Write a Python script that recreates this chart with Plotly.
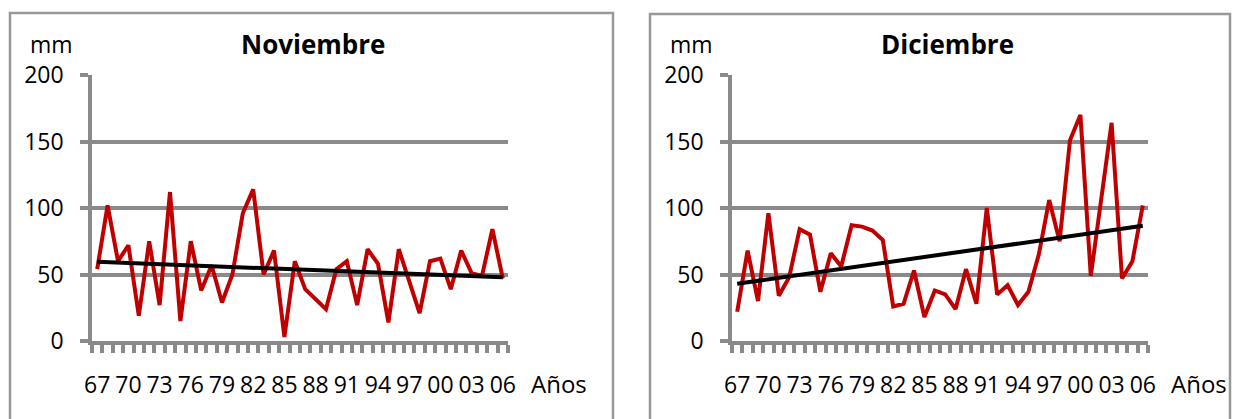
import numpy as np
import plotly.graph_objects as go

W, H = 1241, 419

years = [f"{y % 100:02d}" for y in range(1967, 2007)]
label_years = ["67", "70", "73", "76", "79", "82", "85", "88", "91", "94", "97", "00", "03", "06"]

noviembre = [54, 102, 60, 72, 19, 75, 27, 112, 15, 75, 38, 57, 29, 50, 96, 114, 50, 68, 3, 60,
             39, 31, 24, 54, 60, 27, 69, 58, 14, 69, 46, 21, 60, 62, 39, 68, 51, 49, 84, 47]
diciembre = [22, 68, 30, 96, 34, 48, 84, 80, 37, 66, 56, 87, 86, 83, 76, 26, 28, 53, 18, 38,
             35, 24, 54, 28, 100, 35, 42, 27, 37, 65, 106, 75, 151, 170, 49, 107, 164, 47, 60, 102]
y_ticks = [0, 50, 100, 150, 200]

titles = ["Noviembre", "Diciembre"]
series = [noviembre, diciembre]

GRAY = "#8a8a8a"
RED = "#C00000"
FONT = "Open Sans"

def px(x):
    return x / W

def py(y):
    return 1 - y / H

idx = list(range(len(years)))
tickpos = [years.index(l) for l in label_years]

fig = go.Figure()

panels = [
    dict(x0=92, x1=508, box=(10, 13, 613), mm=28, title_c=313, anos=529),
    dict(x0=732, x1=1148, box=(650, 14, 1230), mm=668, title_c=947, anos=1169),
]

for k, (p, vals, title) in enumerate(zip(panels, series, titles)):
    xa = "x" if k == 0 else f"x{k+1}"
    ya = "y" if k == 0 else f"y{k+1}"
    fig.add_trace(go.Scatter(x=idx, y=vals, mode="lines",
                             line=dict(color=RED, width=4),
                             xaxis=xa, yaxis=ya, showlegend=False))
    coef = np.polyfit(idx, vals, 1)
    trend = np.polyval(coef, [idx[0], idx[-1]])
    fig.add_trace(go.Scatter(x=[idx[0], idx[-1]], y=trend, mode="lines",
                             line=dict(color="black", width=4),
                             xaxis=xa, yaxis=ya, showlegend=False))

    xkey = "xaxis" if k == 0 else f"xaxis{k+1}"
    ykey = "yaxis" if k == 0 else f"yaxis{k+1}"
    fig.layout[xkey] = dict(
        domain=[px(p["x0"]), px(p["x1"])],
        range=[-0.5, len(years) - 0.5],
        anchor=ya,
        showline=True, linecolor=GRAY, linewidth=3.5,
        showgrid=False, zeroline=False,
        tickmode="array", tickvals=tickpos, ticktext=label_years,
        ticks="", ticklabelstandoff=21,
        tickfont=dict(family=FONT, size=23, color="black"),
        minor=dict(tickmode="array", tickvals=[i - 0.5 for i in range(len(years) + 1)],
                   ticks="outside", ticklen=8, tickwidth=3.5, tickcolor=GRAY, showgrid=False),
        fixedrange=True,
    )
    fig.layout[ykey] = dict(
        domain=[py(341), py(75)],
        range=[0, 200],
        anchor=xa,
        showline=True, linecolor=GRAY, linewidth=3.5,
        showgrid=True, gridcolor=GRAY, gridwidth=3.5,
        zeroline=False,
        tickmode="array", tickvals=y_ticks,
        ticks="outside", ticklen=8, tickwidth=3.5, tickcolor=GRAY,
        ticklabelstandoff=12,
        tickfont=dict(family=FONT, size=23, color="black"),
        fixedrange=True,
    )

    bx0, by0, bx1 = p["box"]
    fig.add_shape(type="rect", xref="paper", yref="paper",
                  x0=px(bx0), x1=px(bx1), y0=py(by0), y1=-0.1,
                  line=dict(color="#999999", width=2.5))

    fig.add_annotation(text="mm", xref="paper", yref="paper", x=px(p["mm"]), y=py(44),
                       xanchor="left", yanchor="middle", showarrow=False,
                       font=dict(family=FONT, size=23, color="black"))
    fig.add_annotation(text=f"<b>{title}</b>", xref="paper", yref="paper",
                       x=px(p["title_c"]), y=py(44),
                       xanchor="center", yanchor="middle", showarrow=False,
                       font=dict(family=FONT, size=26, color="black"))
    fig.add_annotation(text="Años", xref="paper", yref="paper", x=px(p["anos"]), y=py(383),
                       xanchor="left", yanchor="middle", showarrow=False,
                       font=dict(family=FONT, size=24, color="black"))

fig.update_layout(
    width=W, height=H,
    margin=dict(l=0, r=0, t=0, b=0, autoexpand=False),
    paper_bgcolor="white", plot_bgcolor="white",
    showlegend=False,
)

fig.write_html("out.html", config={"displayModeBar": False})
